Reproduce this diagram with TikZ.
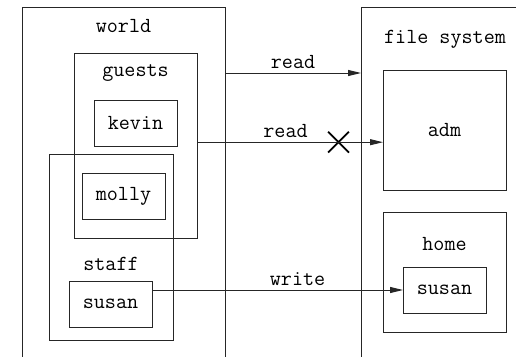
\documentclass[tikz,border=0pt]{standalone}
\usetikzlibrary{positioning, shapes.misc, arrows.meta}

\begin{document}
\begin{tikzpicture}[x=1pt, y=-1pt, font=\ttfamily\fontsize{21.5}{24}\selectfont]
		% Styles
		\tikzstyle{box} = [rectangle, draw=black!85, line width=0.9pt, inner sep=0pt, outer sep=0pt]
		\tikzstyle{user} = [box, minimum width=83pt, minimum height=46pt]
		\tikzstyle{dir} = [box, minimum width=123pt, minimum height=120pt]
		\tikzstyle{title} = [inner sep=0pt]
		\tikzstyle{line} = [draw=black!85, line width=0.9pt, -{Triangle[length=13pt, width=6pt]}]
		\tikzstyle{deny} = [cross out, draw, line width=1.8pt, minimum size=19pt, inner sep=0pt]
		
		\useasboundingbox (0,0) rectangle (516,356);
		\clip (0,0) rectangle (516,356);
		
		% Nodes
		\node [box, minimum width=203pt, minimum height=363pt] (world) at (123.5,188.5) {};
		\node [box, minimum width=169pt, minimum height=363pt] (fs) at (445.5,188.5) {};
		\node [title] (worldlbl) at (123.5,26) {world};
		\node [title] (fslbl) at (445,39) {file system};
		
		\node [box, minimum width=123pt, minimum height=185pt] (guests) at (135.5,145.5) {};
		\node [box, minimum width=124pt, minimum height=186pt] (staff) at (111,247) {};
		\node [title] (guestslbl) at (135.5,73) {guests};
		\node [title] (stafflbl) at (111,264) {staff};
		\node [user] (kevin) at (135.5,123) {kevin};
		\node [user] (molly) at (123.5,196) {molly};
		\node [user] (susan) at (110.5,304) {susan};
		
		\node [dir] (adm) at (444.5,130) {adm};
		\node [dir] (home) at (444.5,272) {};
		\node [title] (homelbl) at (444.5,244) {home};
		\node [user] (homesusan) at (444.5,290) {susan};
		
		\node [deny] (denied) at (338.5,142.2) {};
		
		% Connections
		\path [line] (guestslbl -| world.east) -- node [above=1pt] {read} (guestslbl -| fs.west);
		\path [line] (denied -| guests.east) -- node [above=1pt, pos=0.476] {read} (denied -| adm.west);
		\path [line] (homesusan -| susan.east) -- node [above=1pt, pos=0.58] {write} (homesusan.west);
	\end{tikzpicture}
\end{document}
